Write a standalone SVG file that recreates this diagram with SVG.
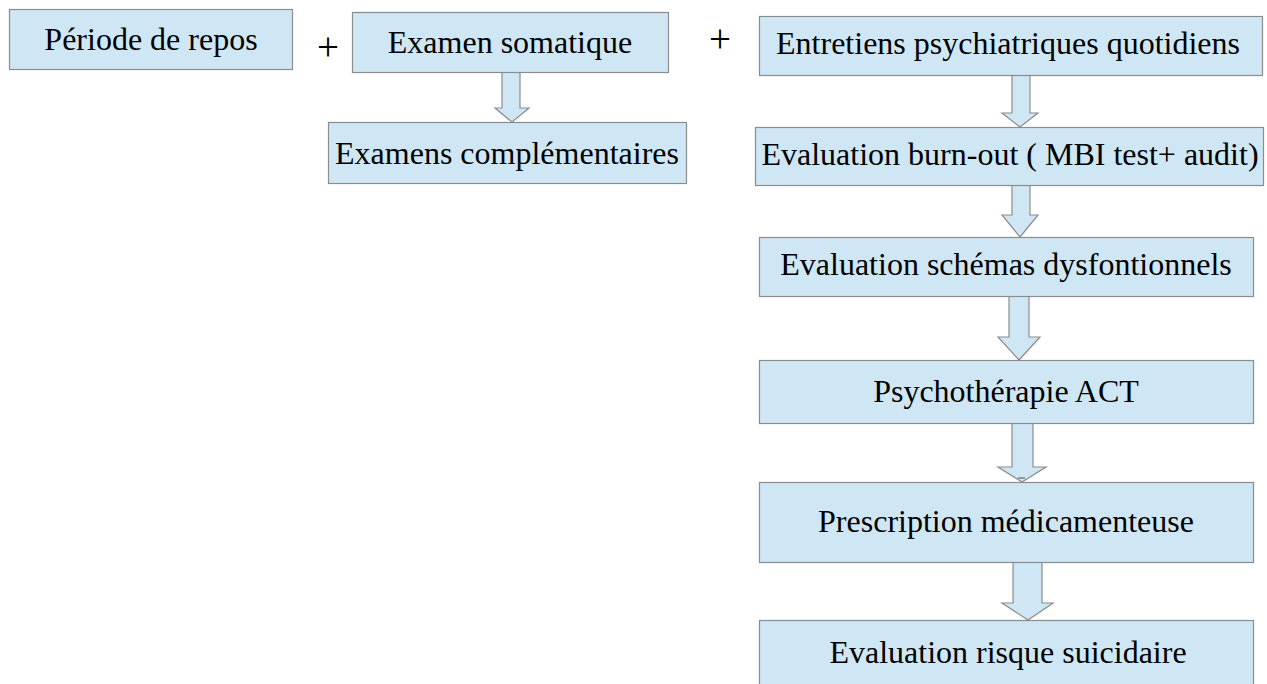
<svg xmlns="http://www.w3.org/2000/svg" width="1267" height="684" viewBox="0 0 1267 684">
<style>
.box{fill:#cfe7f5;stroke:#8c8c8c;stroke-width:1.2}
.arr{fill:#cfe7f5;stroke:#8c8c8c;stroke-width:1.2;stroke-linejoin:miter}
.t{font-family:"Liberation Serif","Times New Roman",serif;font-size:32px;fill:#000;text-anchor:middle}
.p{font-family:"Liberation Serif","Times New Roman",serif;font-size:39px;fill:#000;text-anchor:middle}
.mark{stroke:#666;stroke-width:1.2}
</style>
<rect width="1267" height="684" fill="#fff"/>
<g id="connectors">
<path class="arr" d="M502,72 L520,72 L520,108 L529,108 L512,122 L495,108 L502,108 Z"/>
<path class="arr" d="M1012,75 L1030,75 L1030,113 L1038,113 L1020,127 L1002,113 L1012,113 Z"/>
<path class="arr" d="M1012,185 L1030,185 L1030,215 L1038,215 L1020,237 L1002,215 L1012,215 Z"/>
<path class="arr" d="M1009,296 L1029,296 L1029,337 L1040,337 L1019,360 L998,337 L1009,337 Z"/>
<path class="arr" d="M1012,423 L1033,423 L1033,467 L1046,467 L1022,482 L998,467 L1012,467 Z"/>
<path class="arr" d="M1013,562 L1042,562 L1042,603 L1053,603 L1028,620 L1002,603 L1013,603 Z"/>
<line class="mark" x1="1018" y1="478" x2="1025" y2="478"/>
<line class="mark" x1="1032" y1="623.5" x2="1043" y2="623.5"/>
</g>
<g id="plus1"><text class="p" x="328" y="60">+</text></g>
<g id="plus2"><text class="p" x="720" y="52">+</text></g>
<g id="n1"><rect class="box" x="9.5" y="9.5" width="283" height="60"/><text class="t" x="151" y="50">Période de repos</text></g>
<g id="n2"><rect class="box" x="352.5" y="12.5" width="316" height="60"/><text class="t" x="510" y="53">Examen somatique</text></g>
<g id="n3"><rect class="box" x="328.5" y="122.5" width="358" height="61"/><text class="t" x="507" y="164">Examens complémentaires</text></g>
<g id="n4"><rect class="box" x="759.5" y="16.5" width="503" height="59"/><text class="t" x="1008" y="54">Entretiens psychiatriques quotidiens</text></g>
<g id="n5"><rect class="box" x="755.5" y="127.5" width="508" height="58"/><text class="t" x="1010" y="165">Evaluation burn-out ( MBI test+ audit)</text></g>
<g id="n6"><rect class="box" x="759.5" y="237.5" width="494" height="59"/><text class="t" x="1006" y="275">Evaluation schémas dysfontionnels</text></g>
<g id="n7"><rect class="box" x="759.5" y="360.5" width="494" height="63"/><text class="t" x="1006" y="402">Psychothérapie ACT</text></g>
<g id="n8"><rect class="box" x="759.5" y="482.5" width="494" height="80"/><text class="t" x="1006" y="532">Prescription médicamenteuse</text></g>
<g id="n9"><rect class="box" x="759.5" y="620.5" width="494" height="70"/><text class="t" x="1008" y="663">Evaluation risque suicidaire</text></g>
</svg>
